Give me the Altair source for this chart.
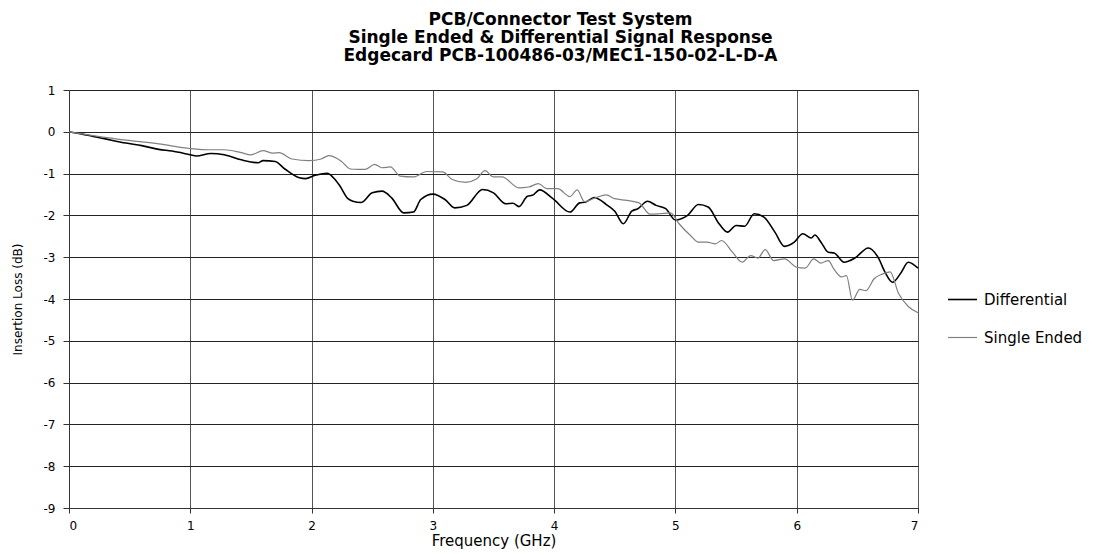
import altair as alt
import pandas as pd

freq_diff = [0, 0.1, 0.2, 0.3, 0.47, 0.6, 0.74, 0.85, 1.0, 1.05, 1.17, 1.28, 1.42, 1.56, 1.6, 1.7,
             1.78, 1.9, 1.95, 2.03, 2.13, 2.18, 2.23, 2.3, 2.34, 2.41, 2.5, 2.58, 2.66, 2.76, 2.84,
             2.9, 3.0, 3.1, 3.18, 3.28, 3.41, 3.5, 3.6, 3.66, 3.71, 3.78, 3.82, 3.88, 3.99, 4.13,
             4.21, 4.26, 4.33, 4.43, 4.5, 4.57, 4.64, 4.69, 4.77, 4.84, 4.92, 5.0, 5.1, 5.19, 5.27,
             5.36, 5.43, 5.5, 5.57, 5.65, 5.73, 5.82, 5.9, 5.98, 6.05, 6.12, 6.15, 6.2, 6.26, 6.31,
             6.39, 6.48, 6.59, 6.67, 6.73, 6.79, 6.86, 6.92, 7.0]
loss_diff = [0, -0.05, -0.11, -0.17, -0.27, -0.33, -0.42, -0.46, -0.55, -0.58, -0.52, -0.55, -0.67,
             -0.74, -0.69, -0.71, -0.89, -1.1, -1.12, -1.04, -0.99, -1.1, -1.28, -1.6, -1.66, -1.69,
             -1.46, -1.42, -1.58, -1.94, -1.92, -1.62, -1.49, -1.62, -1.82, -1.76, -1.38, -1.46,
             -1.72, -1.71, -1.79, -1.54, -1.52, -1.39, -1.6, -1.92, -1.7, -1.68, -1.57, -1.74, -1.9,
             -2.2, -1.9, -1.84, -1.66, -1.76, -1.84, -2.11, -2.0, -1.74, -1.8, -2.2, -2.4, -2.24,
             -2.26, -1.96, -2.04, -2.4, -2.74, -2.64, -2.44, -2.54, -2.47, -2.64, -2.88, -2.9, -3.12,
             -3.02, -2.78, -3.0, -3.37, -3.6, -3.37, -3.12, -3.26]

freq_se = [0, 0.2, 0.47, 0.74, 1.0, 1.16, 1.28, 1.42, 1.5, 1.6, 1.68, 1.73, 1.84, 1.98, 2.08, 2.14,
           2.24, 2.32, 2.38, 2.44, 2.52, 2.58, 2.65, 2.73, 2.84, 2.95, 3.08, 3.16, 3.27, 3.36, 3.43,
           3.5, 3.57, 3.71, 3.79, 3.87, 3.94, 4.03, 4.13, 4.19, 4.25, 4.34, 4.43, 4.5, 4.6, 4.7,
           4.79, 4.87, 4.96, 5.03, 5.12, 5.19, 5.26, 5.33, 5.38, 5.47, 5.55, 5.62, 5.68, 5.74, 5.81,
           5.9, 6.0, 6.07, 6.14, 6.2, 6.26, 6.31, 6.37, 6.41, 6.46, 6.52, 6.57, 6.64, 6.71, 6.77,
           6.84, 6.92, 7.0]
loss_se = [0, -0.09, -0.2, -0.29, -0.40, -0.43, -0.43, -0.50, -0.55, -0.45, -0.51, -0.5, -0.65,
           -0.69, -0.65, -0.57, -0.69, -0.89, -0.9, -0.9, -0.78, -0.86, -0.84, -1.06, -1.08, -0.95,
           -0.96, -1.14, -1.21, -1.13, -0.93, -1.08, -1.08, -1.34, -1.32, -1.24, -1.36, -1.36,
           -1.55, -1.39, -1.67, -1.58, -1.51, -1.6, -1.64, -1.7, -1.97, -1.96, -1.94, -2.2, -2.47,
           -2.64, -2.64, -2.68, -2.6, -2.88, -3.12, -2.96, -3.02, -2.82, -3.08, -3.04, -3.24, -3.26,
           -3.04, -3.14, -3.08, -3.3, -3.47, -3.44, -4.03, -3.77, -3.8, -3.51, -3.4, -3.35, -3.87,
           -4.18, -4.33]

series_names = ["Differential", "Single Ended"]
series_colors = ["#000000", "#808080"]
title_lines = ["PCB/Connector Test System",
               "Single Ended & Differential Signal Response",
               "Edgecard PCB-100486-03/MEC1-150-02-L-D-A"]

df = pd.concat([
    pd.DataFrame({"freq": freq_diff, "loss": loss_diff, "series": series_names[0], "order": range(len(freq_diff))}),
    pd.DataFrame({"freq": freq_se, "loss": loss_se, "series": series_names[1], "order": range(len(freq_se))}),
])

FONT = "DejaVu Sans"

chart = alt.Chart(df).mark_line(interpolate="monotone").encode(
    x=alt.X("freq:Q", scale=alt.Scale(domain=[0, 7], nice=False),
            axis=alt.Axis(title="Frequency (GHz)", values=list(range(0, 8)),
                          labelExpr="'' + datum.value",
                          grid=True, gridColor="#555555", gridWidth=1,
                          domain=True, domainColor="#333333", tickColor="#333333", tickSize=5,
                          labelFont=FONT, labelFontSize=12, labelColor="#000000", labelPadding=7,
                          titleFont=FONT, titleFontSize=15, titleFontWeight="normal",
                          titleColor="#000000", titlePadding=2)),
    y=alt.Y("loss:Q", scale=alt.Scale(domain=[-9, 1], nice=False),
            axis=alt.Axis(title="Insertion Loss (dB)", values=list(range(-9, 2)),
                          labelExpr="'' + datum.value",
                          grid=True, gridColor="#222222", gridWidth=1,
                          domain=True, domainColor="#333333", tickColor="#333333", tickSize=6,
                          labelFont=FONT, labelFontSize=12, labelColor="#000000", labelPadding=8,
                          titleFont=FONT, titleFontSize=12, titleFontWeight="normal",
                          titleColor="#000000", titlePadding=19)),
    color=alt.Color("series:N", scale=alt.Scale(domain=series_names, range=series_colors),
                    legend=alt.Legend(title=None, orient="none", legendX=878, legendY=194,
                                      symbolType="stroke", symbolSize=841, symbolStrokeWidth=1.5,
                                      labelFont=FONT, labelFontSize=15, labelColor="#000000",
                                      labelLimit=200, rowPadding=14, labelOffset=6)),
    strokeWidth=alt.StrokeWidth("series:N", scale=alt.Scale(domain=series_names, range=[1.6, 1.2]),
                                legend=None),
    order="order:Q",
).properties(
    width=849, height=418,
    title=alt.TitleParams(text=title_lines, font=FONT, fontSize=17, fontWeight="bold",
                          color="#000000", anchor="middle", dx=67, offset=19, lineHeight=18),
    autosize=alt.AutoSizeParams(type="none"),
    padding={"left": 61, "top": 82, "right": 165, "bottom": 46},
).configure_view(stroke=None).configure(background="white")

chart.save("out.html", embed_options={"renderer": "svg", "actions": False})
